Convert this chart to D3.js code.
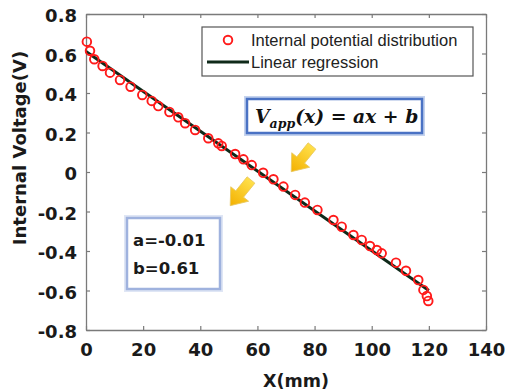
<!DOCTYPE html>
<html><head><meta charset="utf-8">
<script src="https://cdn.jsdelivr.net/npm/d3@7"></script>
<style>html,body{margin:0;padding:0;background:#fff;}svg{display:block;}</style>
</head><body>
<svg id="chart" width="505" height="392"></svg>
<script>
// ---- data ----
const posX = [0.3, 1.4, 2.9, 5.8, 8.4, 11.9, 15.6, 19.7, 23, 25.3, 29.2, 32.3, 34.7, 38.2, 42.8, 46.3, 47.5, 52.2, 55.1, 58, 62, 65.6, 69.1, 73.2, 76.6, 81, 86.6, 89.5, 93.6, 96.5, 99.4, 101.8, 103.5, 108.5, 112, 116.3, 118.1, 119.3, 119.8];
const potential = [0.66, 0.614, 0.571, 0.537, 0.503, 0.466, 0.432, 0.39, 0.36, 0.334, 0.304, 0.277, 0.247, 0.213, 0.171, 0.145, 0.132, 0.091, 0.064, 0.035, -0.004, -0.037, -0.074, -0.116, -0.155, -0.192, -0.243, -0.277, -0.319, -0.344, -0.375, -0.395, -0.412, -0.459, -0.5, -0.547, -0.597, -0.628, -0.653];
const fitX = [0, 120];
const fitY = [0.61, -0.60];
const xTicks = [0, 20, 40, 60, 80, 100, 120, 140];
const yTicks = [-0.8, -0.6, -0.4, -0.2, 0, 0.2, 0.4, 0.6, 0.8];
const yTickLabels = ["-0.8", "-0.6", "-0.4", "-0.2", "0", "0.2", "0.4", "0.6", "0.8"];
const legendLabels = ["Internal potential distribution", "Linear regression"];
const coefLines = ["a=-0.01", "b=0.61"];

const svg = d3.select("#chart");
const L = 86, R = 486, T = 14, B = 330;
const x = d3.scaleLinear().domain([0, 140]).range([L, R]);
const y = d3.scaleLinear().domain([-0.8, 0.8]).range([B, T]);
const frameCol = "#7a7a7a";
const tickFont = "'DejaVu Sans', sans-serif";

// axes
const xAxis = svg.append("g").attr("transform", `translate(0,${B})`)
  .call(d3.axisBottom(x).tickValues(xTicks).tickSizeInner(-4).tickSizeOuter(0).tickPadding(13).tickFormat(d3.format("d")));
const yAxis = svg.append("g").attr("transform", `translate(${L},0)`)
  .call(d3.axisLeft(y).tickValues(yTicks).tickSizeInner(-4).tickSizeOuter(0).tickPadding(9).tickFormat((d, i) => yTickLabels[i]));
const xTop = svg.append("g").attr("transform", `translate(0,${T})`)
  .call(d3.axisTop(x).tickValues(xTicks).tickSizeInner(-4).tickSizeOuter(0).tickFormat(""));
const yRight = svg.append("g").attr("transform", `translate(${R},0)`)
  .call(d3.axisRight(y).tickValues(yTicks).tickSizeInner(-4).tickSizeOuter(0).tickFormat(""));
[xAxis, yAxis, xTop, yRight].forEach(g => {
  g.select(".domain").attr("stroke", frameCol).attr("stroke-width", 1.3);
  g.selectAll(".tick line").attr("stroke", frameCol).attr("stroke-width", 1.2);
});
[xAxis, yAxis].forEach(g => g.selectAll(".tick text")
  .attr("font-family", tickFont).attr("font-weight", "bold").attr("font-size", 18).attr("fill", "#1a1a1a"));
xAxis.selectAll(".tick text").attr("dy", "0.71em");
yAxis.selectAll(".tick text").attr("dy", "0.42em");

// axis titles
svg.append("text").attr("x", 296).attr("y", 387).attr("text-anchor", "middle")
  .attr("font-family", tickFont).attr("font-weight", "bold").attr("font-size", 17.5).attr("fill", "#1a1a1a").text("X(mm)");
svg.append("text").attr("transform", "translate(26,148) rotate(-90)").attr("text-anchor", "middle")
  .attr("font-family", tickFont).attr("font-weight", "bold").attr("font-size", 18).attr("fill", "#1a1a1a").text("Internal Voltage(V)");

// regression line
const lineColor = "#0f2a1a";
svg.append("path").datum(fitX.map((v, i) => [v, fitY[i]]))
  .attr("d", d3.line().x(d => x(d[0])).y(d => y(d[1])))
  .attr("stroke", lineColor).attr("stroke-width", 3).attr("fill", "none");

// markers
svg.append("g").selectAll("circle").data(posX.map((v, i) => [v, potential[i]])).join("circle")
  .attr("cx", d => x(d[0])).attr("cy", d => y(d[1])).attr("r", 4.3)
  .attr("fill", "none").attr("stroke", "#ff1a1a").attr("stroke-width", 1.9);

// legend
const lg = svg.append("g");
lg.append("rect").attr("x", 202).attr("y", 27).attr("width", 271).attr("height", 49)
  .attr("fill", "#fff").attr("stroke", "#555").attr("stroke-width", 1.2);
lg.append("circle").attr("cx", 228).attr("cy", 40).attr("r", 4.3).attr("fill", "none").attr("stroke", "#ff1a1a").attr("stroke-width", 1.9);
lg.append("line").attr("x1", 207).attr("x2", 249).attr("y1", 62).attr("y2", 62).attr("stroke", lineColor).attr("stroke-width", 3);
lg.selectAll("text").data(legendLabels).join("text")
  .attr("x", 251).attr("y", (d, i) => 46 + i * 22)
  .attr("font-family", "'Liberation Sans', Arial, sans-serif").attr("font-size", 16.5).attr("fill", "#222").text(d => d);

// equation box
const eq = svg.append("g");
eq.append("rect").attr("x", 247).attr("y", 99).attr("width", 175).attr("height", 34)
  .attr("fill", "#fff").attr("stroke", "#c5d3ee").attr("stroke-width", 6);
eq.append("rect").attr("x", 247).attr("y", 99).attr("width", 175).attr("height", 34)
  .attr("fill", "#fff").attr("stroke", "#4a72c4").attr("stroke-width", 2.5);
const eqText = eq.append("text").attr("x", 255).attr("y", 123)
  .attr("font-family", "'DejaVu Serif', serif").attr("font-weight", "bold").attr("font-style", "italic")
  .attr("font-size", 18.8).attr("fill", "#111");
eqText.append("tspan").text("V");
eqText.append("tspan").attr("font-size", 12.5).attr("dy", 5).text("app");
eqText.append("tspan").attr("dy", -5).text("(x) = ax + b");

// coefficients box
const cb = svg.append("g");
cb.append("rect").attr("x", 127).attr("y", 218).attr("width", 93).attr("height", 71)
  .attr("fill", "#fff").attr("stroke", "#dfe6f5").attr("stroke-width", 6);
cb.append("rect").attr("x", 127).attr("y", 218).attr("width", 93).attr("height", 71)
  .attr("fill", "#fff").attr("stroke", "#9fb2de").attr("stroke-width", 2.5);
cb.selectAll("text").data(coefLines).join("text")
  .attr("x", 133).attr("y", (d, i) => 246 + i * 28)
  .attr("font-family", tickFont).attr("font-weight", "bold").attr("font-size", 16.5).attr("fill", "#1a1a1a").text(d => d);

// arrows
const defs = svg.append("defs");
const gr = defs.append("linearGradient").attr("id", "arrowGrad").attr("x1", "0").attr("y1", "0").attr("x2", "1").attr("y2", "0");
gr.append("stop").attr("offset", "0").attr("stop-color", "#ffe04a");
gr.append("stop").attr("offset", "1").attr("stop-color", "#f3b000");
const arrowPts = [[0, -5], [18, -5], [18, -11.5], [33, 0], [18, 11.5], [18, 5], [0, 5]];
const arrows = [{tx: 312, ty: 146, ang: 129}, {tx: 251, ty: 180, ang: 129}];
svg.append("g").selectAll("path").data(arrows).join("path")
  .attr("transform", d => `translate(${d.tx},${d.ty}) rotate(${d.ang})`)
  .attr("d", "M" + arrowPts.map(p => p.join(",")).join("L") + "Z")
  .attr("fill", "url(#arrowGrad)").attr("stroke", "#e8c860").attr("stroke-width", 0.8);
</script>
</body></html>
